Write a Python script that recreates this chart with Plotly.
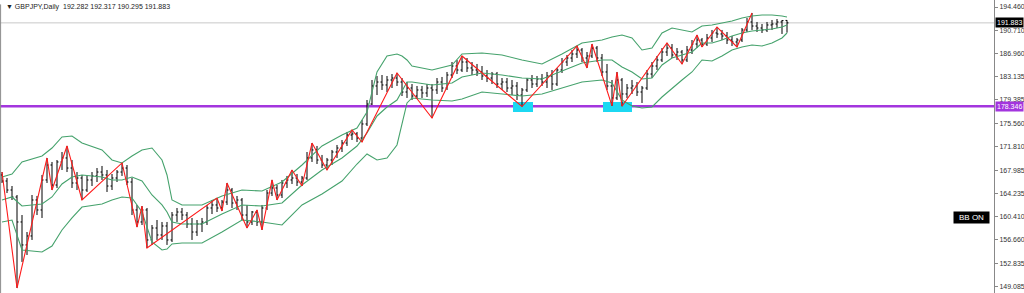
import plotly.graph_objects as go

# ---------------- data (GBPJPY daily) ----------------
opens = [167.19, 166.21, 164.75, 163.61, 159.56, 155.83, 157.29, 163.13, 161.51, 166.38,
         168.81, 165.56, 169.30, 169.95, 168.32, 165.89, 166.70, 164.75, 166.38, 167.03,
         167.67, 167.19, 165.40, 166.70, 167.67, 168.32, 166.05, 161.51, 159.56, 161.51,
         156.64, 158.58, 157.45, 158.91, 156.64, 160.69, 161.18, 160.69, 159.23, 157.93,
         159.23, 159.56, 161.83, 162.32, 161.83, 162.80, 164.75, 162.64, 163.13, 160.69,
         159.56, 161.18, 159.56, 161.83, 164.26, 165.08, 163.94, 165.89, 166.38, 166.70,
         166.05, 166.70, 169.95, 171.25, 169.62, 168.81, 169.62, 170.92, 171.57, 172.38,
         173.68, 173.85, 173.19, 175.47, 178.71, 181.64, 182.28, 181.80, 182.61, 182.93,
         182.28, 180.66, 181.31, 180.01, 180.99, 180.50, 181.31, 180.99, 182.28, 181.31,
         183.42, 184.88, 184.23, 185.53, 184.56, 184.23, 183.91, 183.26, 182.93, 183.58,
         181.96, 182.28, 181.31, 181.64, 180.17, 180.99, 182.61, 181.96, 182.77, 182.28,
         183.26, 181.96, 184.23, 185.53, 186.18, 186.83, 187.48, 186.18, 186.51, 187.80,
         186.18, 183.91, 181.64, 179.69, 182.61, 180.34, 181.31, 181.64, 180.66, 181.31,
         183.58, 184.88, 185.86, 187.15, 187.80, 186.67, 187.15, 185.86, 187.48, 188.45,
         189.10, 188.45, 189.43, 190.24, 190.08, 189.75, 189.10, 188.78, 189.10, 190.73,
         192.03, 191.37, 191.05, 190.73, 191.54, 191.70, 192.03, 192.282]

highs = [167.67, 166.70, 165.40, 163.94, 160.69, 157.93, 163.94, 163.78, 167.19, 169.95,
         169.30, 169.62, 170.92, 171.90, 169.62, 167.67, 167.19, 167.03, 167.67, 168.32,
         168.65, 168.00, 167.35, 168.00, 169.14, 168.81, 166.70, 162.32, 162.15, 161.83,
         159.07, 159.88, 159.56, 159.56, 161.18, 161.83, 161.83, 161.18, 160.21, 159.88,
         160.21, 162.32, 163.13, 163.45, 163.13, 165.89, 165.08, 163.78, 163.45, 162.32,
         161.34, 161.51, 162.32, 164.75, 166.38, 165.56, 166.38, 167.03, 168.00, 167.35,
         167.03, 170.92, 172.38, 171.90, 170.44, 169.95, 171.25, 172.06, 172.87, 174.17,
         174.49, 174.17, 176.12, 179.36, 182.61, 183.26, 183.42, 183.26, 183.58, 183.75,
         182.93, 182.28, 181.96, 181.64, 181.64, 181.96, 181.96, 182.93, 183.10, 183.91,
         185.53, 185.86, 186.51, 186.18, 185.53, 185.21, 184.88, 184.23, 183.91, 183.91,
         182.93, 182.93, 182.61, 182.28, 181.31, 182.93, 183.42, 183.26, 183.58, 183.91,
         184.23, 184.56, 186.18, 186.67, 187.48, 188.13, 187.80, 187.15, 188.45, 188.13,
         186.83, 185.21, 182.61, 183.91, 182.93, 181.96, 182.61, 182.28, 181.64, 184.23,
         185.53, 186.51, 187.80, 188.62, 188.45, 187.80, 187.48, 188.13, 189.10, 189.91,
         189.43, 190.08, 190.73, 191.21, 190.73, 190.40, 189.75, 189.43, 191.05, 192.67,
         193.49, 192.03, 191.70, 192.03, 192.35, 192.51, 192.35, 192.317]

lows = [165.89, 164.26, 163.13, 148.84, 153.07, 154.20, 156.64, 160.69, 160.21, 165.89,
        164.75, 165.08, 168.00, 167.67, 165.08, 164.75, 163.13, 164.43, 165.40, 166.05,
        166.38, 164.43, 164.75, 166.05, 167.03, 165.56, 160.69, 158.74, 159.07, 155.34,
        155.83, 156.64, 156.64, 155.83, 156.31, 159.56, 159.88, 158.58, 156.64, 157.29,
        157.93, 159.07, 160.85, 161.18, 161.34, 162.32, 161.83, 161.51, 159.88, 158.58,
        159.07, 158.91, 158.26, 161.51, 163.78, 163.13, 163.45, 165.08, 165.73, 165.40,
        165.40, 166.38, 169.30, 168.97, 168.32, 168.00, 168.81, 169.95, 170.92, 171.90,
        172.87, 172.54, 172.54, 175.14, 178.55, 180.17, 180.99, 180.66, 181.31, 181.64,
        180.01, 179.69, 179.36, 179.52, 179.69, 179.85, 176.44, 180.34, 180.66, 180.99,
        182.93, 183.58, 183.91, 183.91, 183.42, 183.26, 182.61, 182.28, 181.96, 181.31,
        180.99, 180.66, 180.17, 179.36, 178.30, 180.66, 181.31, 181.47, 181.64, 181.31,
        180.99, 181.64, 183.75, 184.88, 185.53, 186.18, 185.53, 184.56, 186.18, 185.53,
        183.26, 180.99, 178.40, 179.36, 178.35, 179.69, 180.34, 180.01, 178.88, 180.99,
        182.93, 184.23, 185.53, 186.51, 186.18, 185.86, 185.21, 185.53, 186.83, 187.80,
        187.97, 188.13, 188.78, 189.43, 189.10, 188.45, 188.13, 187.97, 188.78, 190.40,
        190.73, 190.40, 190.24, 190.40, 190.73, 191.05, 190.08, 190.295]

closes = [166.21, 164.75, 163.61, 159.56, 155.83, 157.29, 163.13, 161.51, 166.38, 168.81,
          165.56, 169.30, 169.95, 168.32, 165.89, 166.70, 164.75, 166.38, 167.03, 167.67,
          167.19, 165.40, 166.70, 167.67, 168.32, 166.05, 161.51, 159.56, 161.51, 156.64,
          158.58, 157.45, 158.91, 156.64, 160.69, 161.18, 160.69, 159.23, 157.93, 159.23,
          159.56, 161.83, 162.32, 161.83, 162.80, 164.75, 162.64, 163.13, 160.69, 159.56,
          161.18, 159.56, 161.83, 164.26, 165.08, 163.94, 165.89, 166.38, 166.70, 166.05,
          166.70, 169.95, 171.25, 169.62, 168.81, 169.62, 170.92, 171.57, 172.38, 173.68,
          173.85, 173.19, 175.47, 178.71, 181.64, 182.28, 181.80, 182.61, 182.93, 182.28,
          180.66, 181.31, 180.01, 180.99, 180.50, 181.31, 180.99, 182.28, 181.31, 183.42,
          184.88, 184.23, 185.53, 184.56, 184.23, 183.91, 183.26, 182.93, 183.58, 181.96,
          182.28, 181.31, 181.64, 180.17, 180.99, 182.61, 181.96, 182.77, 182.28, 183.26,
          181.96, 184.23, 185.53, 186.18, 186.83, 187.48, 186.18, 186.51, 187.80, 186.18,
          183.91, 181.64, 179.69, 182.61, 180.34, 181.31, 181.64, 180.66, 181.31, 183.58,
          184.88, 185.86, 187.15, 187.80, 186.67, 187.15, 185.86, 187.48, 188.45, 189.10,
          188.45, 189.43, 190.24, 190.08, 189.75, 189.10, 188.78, 189.10, 190.73, 192.03,
          191.37, 191.05, 190.73, 191.54, 191.70, 192.03, 192.25, 191.883]

# Bollinger bands, read at selected bars
band_idx = [0, 2, 4, 8, 10, 12, 14, 16, 20, 22, 24, 26, 28, 30, 32, 33, 34, 36, 40, 44,
            48, 52, 56, 60, 64, 68, 71, 73, 75, 77, 79, 80, 81, 82, 86, 90, 92, 96, 100, 104,
            108, 112, 116, 120, 122, 124, 126, 128, 130, 132, 134, 136, 138, 140, 142, 144,
            146, 148, 150, 152, 154, 156, 157]
bb_upper = [166.86, 167.35, 169.30, 170.27, 171.57, 173.36, 173.52, 172.38, 171.25, 169.62,
            169.14, 170.27, 171.25, 171.57, 169.62, 167.19, 163.13, 162.32, 162.32, 163.78,
            164.75, 164.59, 166.05, 168.81, 171.90, 173.68, 174.82, 177.41, 183.91, 186.51,
            186.83, 186.51, 185.86, 184.88, 184.23, 185.04, 186.83, 186.99, 186.67, 185.86,
            185.21, 186.83, 188.62, 189.10, 189.59, 189.91, 189.43, 187.48, 187.80, 190.24,
            191.05, 190.73, 190.40, 191.38, 191.54, 191.86, 192.19, 192.67, 193.00, 193.16,
            193.16, 193.00, 192.84]
bb_middle = [163.13, 163.62, 162.15, 162.48, 163.62, 165.73, 166.86, 167.19, 166.86, 166.38,
             166.38, 166.86, 166.21, 163.94, 162.32, 161.18, 159.56, 159.23, 159.23, 160.85,
             162.32, 162.15, 162.64, 165.56, 168.00, 169.95, 171.89, 174.01, 176.77, 178.23,
             179.36, 180.82, 182.28, 182.28, 181.80, 182.12, 183.10, 183.75, 183.42, 182.93,
             182.77, 184.07, 185.37, 185.86, 185.86, 184.72, 183.91, 182.77, 182.93, 185.04,
             186.18, 186.67, 187.15, 188.62, 188.62, 189.10, 189.75, 190.24, 190.56, 190.73,
             190.89, 191.21, 191.54]
bb_lower = [159.56, 159.88, 155.01, 154.69, 155.66, 158.26, 160.21, 161.99, 162.48, 163.13,
            163.62, 163.45, 161.18, 156.31, 155.01, 155.17, 155.99, 156.15, 156.15, 157.93,
            159.88, 159.56, 159.07, 162.32, 164.10, 166.21, 168.97, 170.60, 169.62, 169.95,
            172.06, 175.30, 178.88, 179.69, 179.36, 179.20, 179.52, 180.66, 180.34, 180.01,
            180.34, 181.31, 182.28, 182.61, 182.12, 179.36, 178.39, 178.06, 178.23, 179.85,
            181.31, 182.61, 183.91, 185.86, 185.69, 186.51, 187.48, 187.97, 188.29, 188.13,
            188.62, 189.43, 190.24]

# ZigZag swing points
zz_idx = [0, 3, 9, 10, 13, 16, 24, 27, 28, 29, 43, 44, 45, 49, 51, 52, 54, 55, 58, 60,
          62, 65, 70, 72, 79, 86, 92, 104, 115, 117, 118, 122, 123, 124, 133, 136, 139,
          140, 143, 147, 150]
zz_price = [167.67, 148.84, 169.95, 164.75, 171.90, 163.13, 169.14, 158.74, 162.15, 155.34,
            163.45, 161.34, 165.89, 158.58, 161.51, 158.26, 166.38, 163.13, 168.00, 165.40,
            172.38, 168.00, 174.49, 172.54, 183.75, 176.44, 186.51, 178.30, 188.13, 184.56,
            188.45, 178.40, 183.91, 178.35, 188.62, 185.21, 189.91, 187.97, 191.21, 187.97,
            193.49]

# support level and highlighted touches
support_level = 178.346
bid_price = 191.883
touch_zones = [(102.2, 106.2), (120.2, 126.0)]
touch_band = (177.41, 179.04)

y_ticks = [149.085, 152.835, 156.660, 160.410, 164.235, 167.985, 171.810,
           175.560, 179.385, 183.135, 186.960, 190.710, 194.460]

title_text = "GBPJPY,Daily  192.282 192.317 190.295 191.883"

# ---------------- figure ----------------
bar_idx = list(range(len(closes)))
FONT = "Liberation Sans"
GREEN = "#45A26C"

fig = go.Figure()

fig.add_trace(go.Ohlc(
    x=bar_idx, open=opens, high=highs, low=lows, close=closes,
    increasing=dict(line=dict(color="#000000", width=1)),
    decreasing=dict(line=dict(color="#000000", width=1)),
    tickwidth=0.3, hoverinfo="skip", showlegend=False))

for band in (bb_upper, bb_middle, bb_lower):
    fig.add_trace(go.Scatter(x=band_idx, y=band, mode="lines",
                             line=dict(color=GREEN, width=1.1),
                             hoverinfo="skip", showlegend=False))

fig.add_trace(go.Scatter(x=zz_idx, y=zz_price, mode="lines",
                         line=dict(color="#FF1A1A", width=1.1),
                         hoverinfo="skip", showlegend=False))

shapes = []
# bid line
shapes.append(dict(type="line", xref="paper", x0=0, x1=1, yref="y",
                   y0=bid_price, y1=bid_price, line=dict(color="#C8C8C8", width=1),
                   layer="below"))
# support line
shapes.append(dict(type="line", xref="paper", x0=0, x1=1, yref="y",
                   y0=support_level, y1=support_level,
                   line=dict(color="#A335DE", width=2.5), layer="below"))
# touch boxes
for x0, x1 in touch_zones:
    shapes.append(dict(type="rect", xref="x", yref="y", x0=x0, x1=x1,
                       y0=touch_band[0], y1=touch_band[1],
                       fillcolor="#1CD8F2", line=dict(width=0), layer="below"))
# left frame
shapes.append(dict(type="line", xref="paper", yref="paper", x0=0.0006, x1=0.0006,
                   y0=0, y1=0.985, line=dict(color="#8C8C8C", width=1)))

annotations = [
    dict(xref="paper", yref="paper", x=0.004, y=1, xanchor="left", yanchor="top",
         yshift=-1, text="\u25bc " + title_text, showarrow=False,
         font=dict(family=FONT, size=7, color="#222222")),
    dict(xref="paper", yref="y", x=1, y=bid_price, xanchor="left", yanchor="middle",
         xshift=1, text=f"{bid_price:.3f}", showarrow=False, bgcolor="#000000",
         borderpad=1, font=dict(family=FONT, size=7, color="#FFFFFF")),
    dict(xref="paper", yref="y", x=1, y=support_level, xanchor="left", yanchor="middle",
         xshift=1, text=f"{support_level:.3f}", showarrow=False, bgcolor="#A335DE",
         borderpad=1, font=dict(family=FONT, size=7, color="#FFFFFF")),
    dict(xref="paper", yref="paper", x=0.996, y=1 - 217 / 293, xanchor="right",
         yanchor="middle", text="\u2002BB ON\u2002", showarrow=False, bgcolor="#000000",
         borderpad=1, font=dict(family=FONT, size=8, color="#FFFFFF")),
]

fig.update_layout(
    width=1024, height=293,
    margin=dict(l=0, r=30, t=0, b=0),
    paper_bgcolor="white", plot_bgcolor="white",
    showlegend=False,
    shapes=shapes, annotations=annotations,
    xaxis=dict(range=[-0.4, 198.4], visible=False, rangeslider=dict(visible=False),
               fixedrange=True),
    yaxis=dict(range=[148.03, 195.596], side="right", showgrid=False, zeroline=False,
               tickmode="array", tickvals=y_ticks,
               ticktext=[f"{v:.3f}" for v in y_ticks],
               ticks="outside", ticklen=3, tickcolor="#888888",
               showline=True, linecolor="#888888", linewidth=1,
               tickfont=dict(family=FONT, size=7, color="#333333"),
               fixedrange=True),
)

fig.write_html("out.html", config={"displayModeBar": False})
